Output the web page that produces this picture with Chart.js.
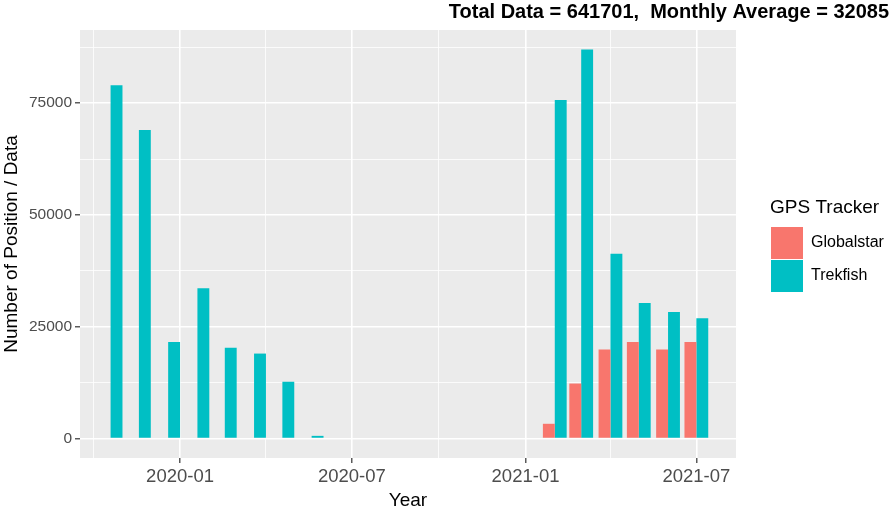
<!DOCTYPE html>
<html>
<head>
<meta charset="utf-8">
<script src="https://cdn.jsdelivr.net/npm/chart.js@4/dist/chart.umd.min.js"></script>
<style>
  html, body { margin: 0; padding: 0; background: #fff; }
  #wrap { width: 889px; height: 512px; }
</style>
</head>
<body>
<div id="wrap"><canvas id="chart"></canvas></div>
<script>
// monthly counts
const globalstarMonths = ['2021-02', '2021-03', '2021-04', '2021-05', '2021-06', '2021-07'];
const globalstarValues = [3300, 12300, 19900, 21600, 19900, 21600];

const trekfishEarlyMonths = ['2019-11', '2019-12', '2020-01', '2020-02', '2020-03', '2020-04', '2020-05', '2020-06'];
const trekfishEarlyValues = [79000, 69000, 21600, 33600, 20300, 19000, 12700, 600];

const trekfishLateMonths = ['2021-02', '2021-03', '2021-04', '2021-05', '2021-06', '2021-07'];
const trekfishLateValues = [75700, 87000, 41300, 30300, 28300, 26900];

// axis ticks (labelled ones are the majors)
const xTickMonths = ['2019-10', '2020-01', '2020-04', '2020-07', '2020-10', '2021-01', '2021-04', '2021-07'];
const xMajorMonths = ['2020-01', '2020-07', '2021-01', '2021-07'];
const yTicks = [0, 12500, 25000, 37500, 50000, 62500, 75000, 87500];
const yMajorTicks = [0, 25000, 50000, 75000];

const titleText = 'Total Data = 641701,  Monthly Average = 32085';

function monthToMs(s) {
    const [y, m] = s.split('-').map(Number);
    return Date.UTC(y, m - 1, 1);
}
function msToMonth(v) {
    const d = new Date(v);
    return d.getUTCFullYear() + '-' + String(d.getUTCMonth() + 1).padStart(2, '0');
}
function points(months, values) {
    return months.map((m, i) => ({ x: monthToMs(m), y: values[i] }));
}

const xMin = Date.UTC(2019, 8, 17);
const xMax = Date.UTC(2021, 7, 12);

Chart.defaults.font.family = "'Liberation Sans', Arial, sans-serif";

const panelBg = {
    id: 'panelBg',
    beforeDraw(chart) {
        const { ctx, chartArea: a } = chart;
        ctx.save();
        ctx.fillStyle = '#EBEBEB';
        ctx.fillRect(a.left, a.top, a.right - a.left, a.bottom - a.top);
        ctx.restore();
    },
};

const isMajorX = (v) => xMajorMonths.includes(msToMonth(v));
const isMajorY = (v) => yMajorTicks.includes(v);

new Chart(document.getElementById('chart'), {
    type: 'bar',
    data: {
        datasets: [
            { label: 'Globalstar', data: points(globalstarMonths, globalstarValues), backgroundColor: '#F8766D', stack: 'left' },
            { label: 'Trekfish', data: points(trekfishEarlyMonths, trekfishEarlyValues), backgroundColor: '#00BFC4', stack: 'left' },
            { label: 'Trekfish', data: points(trekfishLateMonths, trekfishLateValues), backgroundColor: '#00BFC4', stack: 'right' },
        ],
    },
    options: {
        responsive: true,
        maintainAspectRatio: false,
        animation: false,
        categoryPercentage: 0.9,
        barPercentage: 1.0,
        layout: { padding: 0 },
        plugins: {
            title: {
                display: true,
                text: titleText,
                align: 'end',
                color: '#000',
                font: { size: 20, weight: 'bold' },
                padding: { top: 0, bottom: 6 },
            },
            legend: {
                position: 'right',
                fullSize: false,
                maxWidth: 119,
                title: { display: true, text: 'GPS Tracker', position: 'start', color: '#000', font: { size: 19 }, padding: { top: 3, bottom: 5 } },
                labels: {
                    boxWidth: 32,
                    boxHeight: 32,
                    padding: 1,
                    color: '#000',
                    font: { size: 16 },
                    filter: (item) => item.datasetIndex !== 2,
                },
            },
            tooltip: { enabled: false },
        },
        scales: {
            x: {
                type: 'linear',
                min: xMin,
                max: xMax,
                offset: false,
                afterBuildTicks: (s) => { s.ticks = xTickMonths.map((m) => ({ value: monthToMs(m) })); },
                afterFit: (s) => { s.height = 54; },
                ticks: {
                    autoSkip: false,
                    maxRotation: 0,
                    color: '#4D4D4D',
                    font: { size: 18.5 },
                    padding: 3,
                    callback: (v) => (isMajorX(v) ? msToMonth(v) : ''),
                },
                grid: {
                    offset: false,
                    color: '#FFFFFF',
                    lineWidth: (c) => (c.tick && isMajorX(c.tick.value) ? 1.6 : 0.8),
                    tickColor: (c) => (c.tick && isMajorX(c.tick.value) ? '#333333' : 'rgba(0,0,0,0)'),
                    tickWidth: 1.2,
                    tickLength: 5,
                },
                border: { display: false },
                title: { display: true, text: 'Year', color: '#000', font: { size: 19 }, padding: 0 },
            },
            y: {
                min: -4350,
                max: 91350,
                afterBuildTicks: (s) => { s.ticks = yTicks.map((v) => ({ value: v })); },
                afterFit: (s) => { s.width = 80; },
                ticks: {
                    autoSkip: false,
                    color: '#4D4D4D',
                    font: { size: 15.5 },
                    padding: 3,
                    callback: (v) => (isMajorY(v) ? String(v) : ''),
                },
                grid: {
                    color: '#FFFFFF',
                    lineWidth: (c) => (c.tick && isMajorY(c.tick.value) ? 1.6 : 0.8),
                    tickColor: (c) => (c.tick && isMajorY(c.tick.value) ? '#333333' : 'rgba(0,0,0,0)'),
                    tickWidth: 1.2,
                    tickLength: 5,
                },
                border: { display: false },
                title: { display: true, text: 'Number of Position / Data', color: '#000', font: { size: 19 }, padding: 0 },
            },
            // empty spacer between the panel and the legend
            gap: {
                type: 'linear',
                position: 'right',
                display: true,
                grid: { display: false },
                ticks: { display: false },
                border: { display: false },
                afterFit: (s) => { s.width = 34; },
            },
        },
    },
    plugins: [panelBg],
});
</script>
</body>
</html>
